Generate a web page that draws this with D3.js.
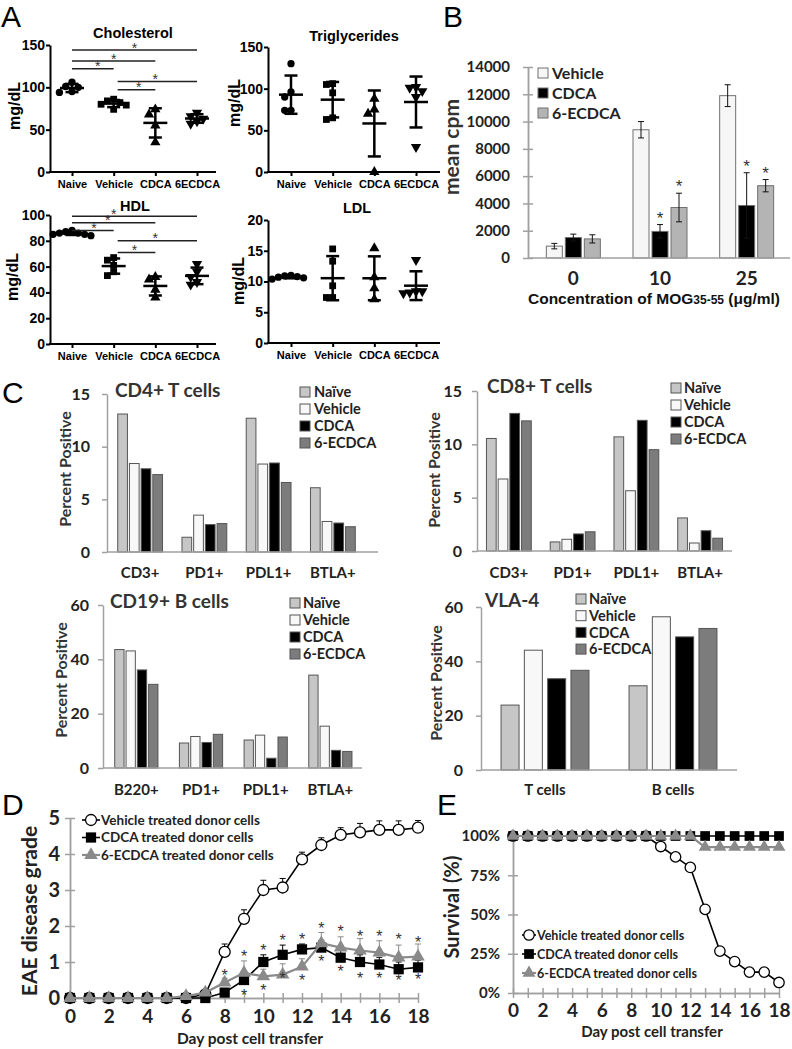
<!DOCTYPE html>
<html><head><meta charset="utf-8">
<script src="https://cdn.jsdelivr.net/npm/d3@7"></script>
<style>body{margin:0;background:#fff}svg{display:block}</style>
</head><body>
<svg id="fig" width="792" height="1049"></svg>
<script>
// ---------------- DATA ----------------
// Panel A (individual animals, mg/dL)
const aCats = ["Naive", "Vehicle", "CDCA", "6ECDCA"];
const cholesterol = [[106, 101, 100, 95, 94], [86, 84, 82, 80, 79, 74], [74, 68, 55, 35], [70, 66, 63, 60, 57]];
// [from group, to group, bracket level (mg/dL), star position (group index)]
const cholesterolSig = [[0, 3, 144, 1.5], [0, 2, 131, 1], [0, 1, 122, 0.62], [1, 3, 107, 2], [1, 2, 97, 1.6]];
const triglycerides = [[130, 96, 90, 74, 74], [106, 105, 95, 65, 63], [88, 75, 70, 0], [102, 101, 97, 90, 30]];
const hdl = [[88, 87, 86, 86, 85, 85, 84], [67, 65, 61, 56, 53], [52, 50, 42, 36], [62, 56, 52, 48, 46]];
const hdlSig = [[0, 3, 99, 1], [0, 2, 94, 0.86], [0, 1, 88, 0.53], [1, 3, 80, 2], [1, 2, 71, 1.5]];
const ldl = [[11, 10.9, 10.8, 10.7, 10.6, 10.4], [15.3, 13.3, 9.3, 7.4, 7.4], [15.4, 10.7, 8.9, 7.1], [13.5, 8.4, 8.2, 8.4, 8.1]];

// Panel B
const mogConc = ["0", "10", "25"];
const prolifSeries = ["Vehicle", "CDCA", "6-ECDCA"];
const cpmVehicle = [870, 9400, 11900];
const cpmCDCA = [1500, 1950, 3850];
const cpmECDCA = [1400, 3700, 5300];
const cpmVehicleErr = [200, 600, 800];
const cpmCDCAErr = [250, 500, 2400];
const cpmECDCAErr = [300, 1050, 450];
const cpmVehicleSig = [0, 0, 0];
const cpmCDCASig = [0, 1, 1];
const cpmECDCASig = [0, 1, 1];

// Panel C
const cSeries = ["Naïve", "Vehicle", "CDCA", "6-ECDCA"];
const tCats = ["CD3+", "PD1+", "PDL1+", "BTLA+"];
const bCats = ["B220+", "PD1+", "PDL1+", "BTLA+"];
const vlaCats = ["T cells", "B cells"];
const cd4Naive = [13.1, 1.4, 12.7, 6.1];
const cd4Vehicle = [8.4, 3.5, 8.35, 2.9];
const cd4CDCA = [7.9, 2.6, 8.45, 2.75];
const cd4ECDCA = [7.35, 2.7, 6.6, 2.4];
const cd8Naive = [10.55, 0.85, 10.7, 3.1];
const cd8Vehicle = [6.75, 1.1, 5.65, 0.75];
const cd8CDCA = [12.9, 1.6, 12.25, 1.9];
const cd8ECDCA = [12.2, 1.8, 9.5, 1.2];
const cd19Naive = [43.6, 9.2, 10.3, 34.2];
const cd19Vehicle = [43.1, 11.6, 12.1, 15.4];
const cd19CDCA = [36.1, 9.4, 3.6, 6.5];
const cd19ECDCA = [30.8, 12.4, 11.4, 6.1];
const vlaNaive = [23.9, 31.0];
const vlaVehicle = [44.1, 56.4];
const vlaCDCA = [33.6, 49.0];
const vlaECDCA = [36.7, 52.1];

// Panel D
const days = [0, 1, 2, 3, 4, 5, 6, 7, 8, 9, 10, 11, 12, 13, 14, 15, 16, 17, 18];
const eaeVehicle = [0, 0, 0, 0, 0, 0, 0, 0.1, 1.28, 2.2, 3.0, 3.07, 3.85, 4.25, 4.53, 4.6, 4.67, 4.67, 4.73];
const eaeVehicleErr = [0, 0, 0, 0, 0, 0, 0, 0, 0.22, 0.25, 0.27, 0.25, 0.2, 0.2, 0.2, 0.25, 0.25, 0.25, 0.2];
const eaeCDCA = [0, 0, 0, 0, 0, 0, 0, 0, 0.15, 0.5, 1.0, 1.2, 1.35, 1.4, 1.12, 1.0, 0.93, 0.8, 0.85];
const eaeCDCAErr = [0, 0, 0, 0, 0, 0, 0, 0, 0.05, 0.12, 0.2, 0.27, 0.15, 0.2, 0.2, 0.2, 0.2, 0.2, 0.2];
const eaeECDCA = [0, 0, 0, 0, 0, 0, 0.05, 0.15, 0.43, 0.7, 0.6, 0.65, 0.87, 1.52, 1.4, 1.32, 1.26, 1.12, 1.15];
const eaeECDCAErr = [0, 0, 0, 0, 0, 0, 0, 0, 0.12, 0.33, 0.2, 0.3, 0.22, 0.3, 0.3, 0.33, 0.33, 0.35, 0.35];
const starAboveDays = [8, 9, 10, 11, 12, 13, 14, 15, 16, 17, 18];
const starAboveGrade = [0.72, 1.25, 1.42, 1.69, 1.72, 2.03, 1.94, 1.81, 1.81, 1.72, 1.64];
const starBelowDays = [9, 10, 11, 12, 13, 14, 15, 16, 17, 18];
const starBelowGrade = [0.17, 0.31, 0.64, 0.58, 1.11, 0.83, 0.64, 0.64, 0.58, 0.62];

// Panel E
const survVehicle = [100, 100, 100, 100, 100, 100, 100, 100, 100, 100, 93.3, 86.7, 80, 53.3, 26.7, 20, 13.3, 13.3, 6.7];
const survCDCA = [100, 100, 100, 100, 100, 100, 100, 100, 100, 100, 100, 100, 100, 100, 100, 100, 100, 100, 100];
const survECDCA = [100, 100, 100, 100, 100, 100, 100, 100, 100, 100, 100, 100, 100, 92.9, 92.9, 92.9, 92.9, 92.9, 92.9];
const lineLegend = ["Vehicle treated donor cells", "CDCA treated donor cells", "6-ECDCA treated donor cells"];

// ---------------- DRAWING ----------------
const svg = d3.select("#fig");
const ARIAL = "'Liberation Sans', Arial, sans-serif";
const CAL = "Lato, 'Open Sans', sans-serif";
const AXG = "#a0a0a0";

function txt(g, x, y, s, o = {}) {
  const t = g.append("text").attr("x", x).attr("y", y).text(s)
    .attr("font-family", o.ff || CAL).attr("font-size", o.fs || 14)
    .attr("font-weight", o.fw || "bold").attr("fill", o.fill || "#222")
    .attr("text-anchor", o.anchor || "start");
  if (o.rotate) t.attr("transform", `rotate(-90,${x},${y})`);
  return t;
}
function axisFont(sel, ff, fs, fill) {
  sel.attr("font-family", ff).attr("font-size", fs).attr("font-weight", "bold");
  sel.selectAll(".tick text").attr("fill", fill || "#222");
  return sel;
}

// panel letters
[["A", 1, 27], ["B", 443, 27], ["C", 2, 403], ["D", 2, 815], ["E", 437, 815]]
  .forEach(([l, x, y]) => txt(svg, x, y, l, { ff: ARIAL, fs: 30, fw: "normal", fill: "#000" }));

// ---------- Panel A ----------
const symA = [d3.symbolCircle, d3.symbolSquare, d3.symbolTriangle, d3.symbolTriangle];
function swarm(vals, y, cx, size) {
  const placed = [];
  return vals.map(v => {
    const py = y(v);
    let px = cx;
    for (let k = 0; k < 30; k++) {
      const cand = cx + (k === 0 ? 0 : (k % 2 ? -1 : 1) * Math.ceil(k / 2) * size * 0.9);
      if (placed.every(p => Math.hypot(p[0] - cand, p[1] - py) >= size * 0.9)) { px = cand; break; }
    }
    placed.push([px, py]);
    return [px, py];
  });
}
function scatterPanel(o) {
  const g = svg.append("g");
  const y = d3.scaleLinear().domain(o.domain).range([o.y0, o.y1]);
  const x = d3.scalePoint().domain(aCats).range([o.xFirst, o.xLast]);
  const xi = d3.scaleLinear().domain([0, aCats.length - 1]).range([o.xFirst, o.xLast]);
  const ya = g.append("g").attr("transform", `translate(${o.axisX},0)`)
    .call(d3.axisLeft(y).tickValues(o.ticks).tickSize(4).tickSizeOuter(0).tickPadding(1));
  axisFont(ya, ARIAL, 14, "#000");
  ya.select(".domain").attr("stroke", "#000").attr("stroke-width", 2);
  ya.selectAll(".tick line").attr("stroke", "#000").attr("stroke-width", 2);
  const xa = g.append("g").attr("transform", `translate(0,${o.y0})`)
    .call(d3.axisBottom(x).tickSize(4).tickPadding(4));
  axisFont(xa, ARIAL, 11, "#000");
  xa.select(".domain").remove();
  xa.selectAll(".tick line").attr("stroke", "#000").attr("stroke-width", 2);
  g.append("line").attr("x1", o.axisX - 1).attr("x2", o.xEnd).attr("y1", o.y0).attr("y2", o.y0)
    .attr("stroke", "#000").attr("stroke-width", 2);
  txt(g, o.titleX, o.titleY, o.title, { ff: ARIAL, fs: 14.5, anchor: "middle", fill: "#000" });
  txt(g, o.ylabX, o.ylabY, "mg/dL", { ff: ARIAL, fs: 16, anchor: "middle", rotate: true, fill: "#000" });
  o.data.forEach((vals, i) => {
    const cx = x(aCats[i]);
    const pts = swarm(vals, y, cx, 7);
    g.selectAll(null).data(pts).join("path")
      .attr("d", d3.symbol().type(symA[i]).size(i === 0 ? 42 : 46))
      .attr("transform", d => `translate(${d[0]},${d[1]})${i === 3 ? " rotate(180)" : ""}`)
      .attr("fill", "#000");
    const m = d3.mean(vals), sd = d3.deviation(vals);
    const eg = g.append("g").attr("stroke", "#000").attr("stroke-width", 2.5);
    eg.append("line").attr("x1", cx).attr("x2", cx).attr("y1", y(m - sd)).attr("y2", y(m + sd));
    eg.append("line").attr("x1", cx - 6.5).attr("x2", cx + 6.5).attr("y1", y(m - sd)).attr("y2", y(m - sd));
    eg.append("line").attr("x1", cx - 6.5).attr("x2", cx + 6.5).attr("y1", y(m + sd)).attr("y2", y(m + sd));
    eg.append("line").attr("x1", cx - 12).attr("x2", cx + 12).attr("y1", y(m)).attr("y2", y(m));
  });
  (o.sig || []).forEach(([a, b, v, s]) => {
    const x1 = x(aCats[a]) + (a > 0 ? 4 : 0), x2 = x(aCats[b]);
    g.append("line").attr("x1", x1).attr("x2", x2).attr("y1", y(v)).attr("y2", y(v))
      .attr("stroke", "#222").attr("stroke-width", 1.5);
    txt(g, xi(s), y(v) + 2.5, "*", { ff: ARIAL, fs: 14, fw: "normal", anchor: "middle", fill: "#333" });
  });
}
scatterPanel({ data: cholesterol, sig: cholesterolSig, domain: [0, 150], ticks: [0, 50, 100, 150], axisX: 50, y0: 172, y1: 45,
  xFirst: 72, xLast: 197, xEnd: 216, title: "Cholesterol", titleX: 133, titleY: 38, ylabX: 20, ylabY: 106 });
scatterPanel({ data: triglycerides, domain: [0, 150], ticks: [0, 50, 100, 150], axisX: 268, y0: 172, y1: 47,
  xFirst: 291, xLast: 416, xEnd: 440, title: "Triglycerides", titleX: 354, titleY: 41, ylabX: 240, ylabY: 103 });
scatterPanel({ data: hdl, sig: hdlSig, domain: [0, 100], ticks: [0, 20, 40, 60, 80, 100], axisX: 50, y0: 344, y1: 215,
  xFirst: 72, xLast: 197, xEnd: 216, title: "HDL", titleX: 135, titleY: 211, ylabX: 18, ylabY: 277 });
scatterPanel({ data: ldl, domain: [0, 20], ticks: [0, 5, 10, 15, 20], axisX: 268, y0: 343, y1: 220,
  xFirst: 291, xLast: 416, xEnd: 440, title: "LDL", titleX: 357, titleY: 213, ylabX: 244, ylabY: 281 });

// ---------- Bar panels (B, C) ----------
function barPanel(o) {
  const g = svg.append("g");
  const y = d3.scaleLinear().domain(o.domain).range([o.y0, o.y1]);
  const x0 = d3.scaleBand().domain(o.groups).range(o.xRange);
  const pi = 1 - o.barW / o.barStep;
  const po = (x0.bandwidth() / o.barStep - o.series.length + pi) / 2;
  const x1 = d3.scaleBand().domain(o.series).range([0, x0.bandwidth()]).paddingInner(pi).paddingOuter(po);
  const ya = g.append("g").attr("transform", `translate(${o.axisX},0)`)
    .call(d3.axisLeft(y).tickValues(o.ticks).tickSize(5).tickSizeOuter(0).tickPadding(o.tickPad).tickFormat(d3.format("d")));
  axisFont(ya, CAL, o.tickFs);
  if (o.cross) g.append("g").attr("transform", `translate(${o.axisX},0)`)
    .call(d3.axisRight(y).tickValues(o.ticks).tickSize(5).tickSizeOuter(0).tickFormat(""));
  g.selectAll(".domain").attr("stroke", AXG).attr("stroke-width", 1.5);
  g.selectAll(".tick line").attr("stroke", AXG).attr("stroke-width", 1.5);
  o.series.forEach((s, si) => {
    g.selectAll(null).data(o.values[si]).join("rect")
      .attr("x", (d, i) => x0(o.groups[i]) + x1(s))
      .attr("y", d => y(d)).attr("width", x1.bandwidth()).attr("height", d => y(0) - y(d))
      .attr("fill", o.colors[si]).attr("stroke", o.stroke).attr("stroke-width", 1);
    if (o.errs) {
      o.values[si].forEach((d, i) => {
        const cx = x0(o.groups[i]) + x1(s) + x1.bandwidth() / 2;
        const e = o.errs[si][i];
        const eg = g.append("g").attr("stroke", "#111").attr("stroke-width", 1);
        eg.append("line").attr("x1", cx).attr("x2", cx).attr("y1", y(d - e)).attr("y2", y(d + e));
        eg.append("line").attr("x1", cx - 3).attr("x2", cx + 3).attr("y1", y(d - e)).attr("y2", y(d - e));
        eg.append("line").attr("x1", cx - 3).attr("x2", cx + 3).attr("y1", y(d + e)).attr("y2", y(d + e));
        if (o.sigs && o.sigs[si][i]) txt(g, cx, y(d + e) - 1, "*", { ff: ARIAL, fs: 17, fw: "normal", anchor: "middle", fill: "#333" });
      });
    }
  });
  g.append("line").attr("x1", o.axisX).attr("x2", o.xEnd).attr("y1", o.y0).attr("y2", o.y0)
    .attr("stroke", AXG).attr("stroke-width", 1.5);
  o.groups.forEach(c => txt(g, x0(c) + x0.bandwidth() / 2, o.catY, c, { fs: o.catFs, anchor: "middle" }));
  if (o.title) txt(g, o.titleX, o.titleY, o.title, { fs: 19, fill: "#333" });
  txt(g, o.ylabX, o.ylabY, o.ylab, { fs: o.ylabFs, anchor: "middle", rotate: true, fill: "#333" });
  o.series.forEach((s, si) => {
    const cy = o.legY + si * o.legStep;
    g.append("rect").attr("x", o.legX).attr("y", cy - o.legSq / 2).attr("width", o.legSq).attr("height", o.legSq)
      .attr("fill", o.colors[si]).attr("stroke", o.stroke).attr("stroke-width", 1);
    txt(g, o.legX + o.legSq + o.legGap, cy + o.legFs * 0.36, s, { fs: o.legFs, fill: "#222" });
  });
}

// Panel B
barPanel({ groups: mogConc, series: prolifSeries, values: [cpmVehicle, cpmCDCA, cpmECDCA],
  errs: [cpmVehicleErr, cpmCDCAErr, cpmECDCAErr], sigs: [cpmVehicleSig, cpmCDCASig, cpmECDCASig],
  colors: ["#f6f6f6", "#000", "#b4b4b4"], stroke: "#707070",
  domain: [0, 14000], ticks: [0, 2000, 4000, 6000, 8000, 10000, 12000, 14000], axisX: 528, y0: 258, y1: 67,
  xRange: [530, 790], xEnd: 790, barW: 16, barStep: 19, tickFs: 15, tickPad: 13, cross: true,
  catY: 285, catFs: 19, ylab: "mean cpm", ylabX: 459, ylabY: 147, ylabFs: 21,
  legX: 538, legY: 73, legStep: 20, legSq: 10, legGap: 4, legFs: 16 });
{
  const t = svg.append("text").attr("x", 654).attr("y", 304).attr("text-anchor", "middle")
    .attr("font-family", ARIAL).attr("font-weight", "bold").attr("font-size", 15.5).attr("fill", "#111");
  t.append("tspan").text("Concentration of MOG");
  t.append("tspan").attr("font-size", 12).text("35-55");
  t.append("tspan").text(" (μg/ml)");
}

const cColors = ["#c6c6c6", "#f8f8f8", "#000", "#7c7c7c"];
barPanel({ groups: tCats, series: cSeries, values: [cd4Naive, cd4Vehicle, cd4CDCA, cd4ECDCA], colors: cColors, stroke: "#555",
  domain: [0, 15], ticks: [0, 5, 10, 15], axisX: 107, y0: 552, y1: 394, xRange: [108, 365], xEnd: 378,
  barW: 9.7, barStep: 11.7, tickFs: 16, tickPad: 12, catY: 578, catFs: 15,
  title: "CD4+ T cells", titleX: 115, titleY: 397, ylab: "Percent Positive", ylabX: 71, ylabY: 469, ylabFs: 16,
  legX: 300, legY: 392, legStep: 17, legSq: 10, legGap: 4, legFs: 14.5 });
barPanel({ groups: tCats, series: cSeries, values: [cd8Naive, cd8Vehicle, cd8CDCA, cd8ECDCA], colors: cColors, stroke: "#555",
  domain: [0, 15], ticks: [0, 5, 10, 15], axisX: 477, y0: 551, y1: 391, xRange: [477, 732], xEnd: 732,
  barW: 9.7, barStep: 11.7, tickFs: 16, tickPad: 10, catY: 578, catFs: 15,
  title: "CD8+ T cells", titleX: 487, titleY: 393, ylab: "Percent Positive", ylabX: 440, ylabY: 470, ylabFs: 16,
  legX: 671, legY: 388, legStep: 17, legSq: 10, legGap: 3, legFs: 14.5 });
barPanel({ groups: bCats, series: cSeries, values: [cd19Naive, cd19Vehicle, cd19CDCA, cd19ECDCA], colors: cColors, stroke: "#555",
  domain: [0, 60], ticks: [0, 20, 40, 60], axisX: 103, y0: 768, y1: 605, xRange: [104, 362.7], xEnd: 362,
  barW: 9.3, barStep: 11.3, tickFs: 16, tickPad: 9, catY: 795, catFs: 15,
  title: "CD19+ B cells", titleX: 110, titleY: 608, ylab: "Percent Positive", ylabX: 67, ylabY: 680, ylabFs: 16,
  legX: 290, legY: 603, legStep: 17, legSq: 10, legGap: 3, legFs: 14.5 });
barPanel({ groups: vlaCats, series: cSeries, values: [vlaNaive, vlaVehicle, vlaCDCA, vlaECDCA], colors: cColors, stroke: "#555",
  domain: [0, 60], ticks: [0, 20, 40, 60], axisX: 481, y0: 770, y1: 607, xRange: [481, 737], xEnd: 737,
  barW: 18, barStep: 23.3, tickFs: 16, tickPad: 13, catY: 795, catFs: 15,
  title: "VLA-4", titleX: 485, titleY: 607, ylab: "Percent Positive", ylabX: 442, ylabY: 683, ylabFs: 16,
  legX: 576, legY: 599, legStep: 16.7, legSq: 10, legGap: 3, legFs: 14.5 });

// ---------- Line panels (D, E) ----------
const GR = "#8a8a8a";
const lineSeries = [
  { sym: d3.symbolCircle, size: 95, fill: "#fff", stroke: "#000", line: "#000", lw: 1.6 },
  { sym: d3.symbolSquare, size: 105, fill: "#000", stroke: "none", line: "#000", lw: 1.6 },
  { sym: d3.symbolTriangle, size: 80, fill: GR, stroke: "none", line: GR, lw: 2.2 }
];
function linePanel(o) {
  const g = svg.append("g");
  const x = d3.scaleLinear().domain([0, 18]).range([o.x0, o.x1]);
  const y = d3.scaleLinear().domain(o.domain).range([o.y0, o.y1]);
  const ya = g.append("g").attr("transform", `translate(${o.x0},0)`)
    .call(d3.axisLeft(y).tickValues(o.yTicks).tickSize(5).tickSizeOuter(0).tickPadding(o.yPad).tickFormat(o.yFmt));
  axisFont(ya, CAL, o.yFs);
  g.append("g").attr("transform", `translate(${o.x0},0)`)
    .call(d3.axisRight(y).tickValues(o.yTicks).tickSize(5).tickSizeOuter(0).tickFormat(""));
  const xa = g.append("g").attr("transform", `translate(0,${o.y0})`)
    .call(d3.axisBottom(x).tickValues(days).tickSize(5).tickSizeOuter(0).tickPadding(o.xPad)
      .tickFormat(d => d % 2 === 0 ? d : ""));
  axisFont(xa, CAL, o.xFs);
  g.append("g").attr("transform", `translate(0,${o.y0})`)
    .call(d3.axisTop(x).tickValues(days).tickSize(5).tickSizeOuter(0).tickFormat(""));
  g.selectAll(".domain").attr("stroke", AXG).attr("stroke-width", 1.5);
  g.selectAll(".tick line").attr("stroke", AXG).attr("stroke-width", 1.5);
  o.values.forEach((vals, si) => {
    const st = lineSeries[si];
    g.append("path").datum(vals).attr("fill", "none").attr("stroke", st.line).attr("stroke-width", st.lw)
      .attr("d", d3.line().x((d, i) => x(days[i])).y(d => y(d)));
    if (o.errs) {
      o.errs[si].forEach((e, i) => {
        if (!e) return;
        const cx = x(days[i]), v = vals[i];
        g.append("line").attr("x1", cx).attr("x2", cx).attr("y1", y(v)).attr("y2", y(v + e)).attr("stroke", st.line).attr("stroke-width", 1);
        g.append("line").attr("x1", cx - 3).attr("x2", cx + 3).attr("y1", y(v + e)).attr("y2", y(v + e)).attr("stroke", st.line).attr("stroke-width", 1);
      });
    }
    g.selectAll(null).data(vals).join("path")
      .attr("d", d3.symbol().type(st.sym).size(st.size * o.mScale))
      .attr("transform", (d, i) => `translate(${x(days[i])},${y(d)})`)
      .attr("fill", st.fill).attr("stroke", st.stroke).attr("stroke-width", 1.3);
  });
  (o.stars || []).forEach(([ds, vs]) => ds.forEach((d, i) =>
    txt(g, x(d), y(vs[i]) + 9, "*", { ff: ARIAL, fs: 16, fw: "normal", anchor: "middle", fill: "#333" })));
  txt(g, o.xlabX, o.xlabY, "Day post cell transfer", { fs: o.xlabFs, anchor: "middle" });
  txt(g, o.ylabX, o.ylabY, o.ylab, { fs: o.ylabFs, anchor: "middle", rotate: true });
  lineLegend.forEach((s, si) => {
    const st = lineSeries[si];
    const cy = o.legY + si * o.legStep;
    g.append("line").attr("x1", o.legX).attr("x2", o.legX + o.legW).attr("y1", cy).attr("y2", cy)
      .attr("stroke", st.line).attr("stroke-width", st.lw);
    g.append("path").attr("d", d3.symbol().type(st.sym).size(st.size * o.mScale))
      .attr("transform", `translate(${o.legX + o.legW / 2},${cy})`)
      .attr("fill", st.fill).attr("stroke", st.stroke).attr("stroke-width", 1.3);
    txt(g, o.legX + o.legW + 1, cy + o.legFs * 0.36, s, { fs: o.legFs });
  });
}
linePanel({ x0: 70, x1: 418, y0: 998, y1: 818, domain: [0, 5], yTicks: [0, 1, 2, 3, 4, 5], yFs: 20, yPad: 5, yFmt: d => d,
  xFs: 19, xPad: 7, values: [eaeVehicle, eaeCDCA, eaeECDCA], errs: [eaeVehicleErr, eaeCDCAErr, eaeECDCAErr],
  stars: [[starAboveDays, starAboveGrade], [starBelowDays, starBelowGrade]], mScale: 1,
  xlabX: 250, xlabY: 1044, xlabFs: 15.5, ylab: "EAE disease grade", ylabX: 37, ylabY: 911, ylabFs: 21,
  legX: 82, legY: 820, legStep: 17.5, legW: 18, legFs: 13.5 });
linePanel({ x0: 513, x1: 779, y0: 993, y1: 836, domain: [0, 100], yTicks: [0, 25, 50, 75, 100], yFs: 15, yPad: 8, yFmt: d => d + "%",
  xFs: 19, xPad: 6, values: [survVehicle, survCDCA, survECDCA], mScale: 0.9,
  xlabX: 652, xlabY: 1037, xlabFs: 15, ylab: "Survival (%)", ylabX: 459, ylabY: 907, ylabFs: 20,
  legX: 522, legY: 935, legStep: 19, legW: 14, legFs: 12.5 });
</script>
</body></html>
